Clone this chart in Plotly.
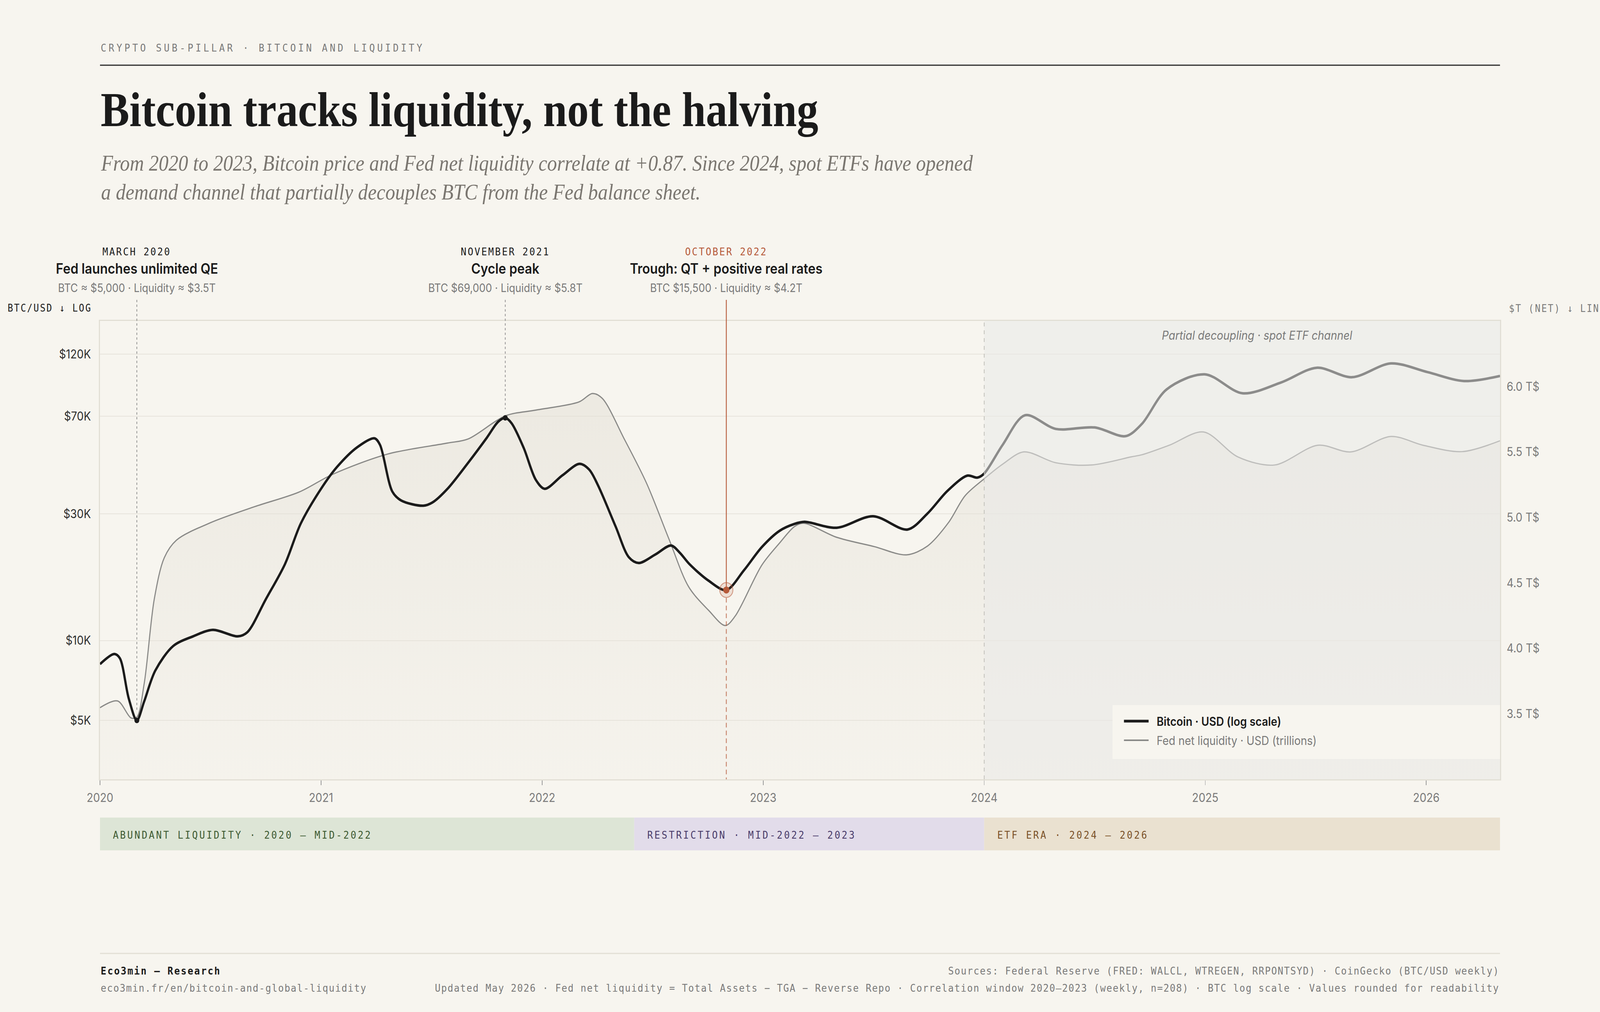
import math
import plotly.graph_objects as go

# ---------------- data ----------------
# x = months since January 2020
btc_month = [0, 0.78, 1.08, 1.56, 2, 2.4, 3, 3.97, 5.05, 6.13, 7.48, 8, 9, 10.04, 10.9,
             12, 12.87, 13.95, 14.9, 15.2, 15.87, 16.35, 17.55, 18.04, 18.85, 20, 21,
             21.62, 22, 22.34, 23, 23.66, 24.14, 25.1, 26.03, 26.55, 27.03, 27.99, 28.71,
             29.25, 30.15, 31, 31.48, 32, 33.04, 34, 34.96, 35.93, 36.89, 37.7, 38.25,
             39.99, 41.97, 43.84, 44.92, 46, 47.08, 47.63, 48, 49, 50.21, 51.89, 54,
             55.68, 56.56, 57.9, 59.97, 62.02, 64.13, 66.05, 67.97, 70.08, 72.07, 74.05, 76]
btc_usd = [8150, 8900, 8570, 6050, 5000, 5900, 7700, 9530, 10370, 10970, 10370, 10750,
           14300, 19400, 27600, 37300, 45100, 53400, 57800, 54600, 36400, 33700, 32200,
           33100, 37200, 46900, 58100, 66800, 69000, 65900, 53200, 40300, 37300, 41900,
           46300, 44100, 38500, 26900, 20600, 19600, 21100, 22800, 21400, 19400, 16800,
           15500, 18400, 22500, 25900, 27500, 28000, 26600, 29400, 26200, 30100, 36600,
           41800, 41100, 42600, 54600, 70600, 62700, 63500, 58900, 65500, 88300, 100700,
           85400, 93900, 106600, 98200, 110700, 102600, 95000, 99300]

liq_month = [0, 0.96, 1.68, 2, 2.4, 2.95, 3.49, 4.15, 6.01, 8.42, 10.82, 12.62, 15.63,
             18.85, 20, 22, 23.66, 26.01, 26.73, 27.27, 28.47, 29.67, 30.88, 31.96, 33.04,
             33.94, 34.48, 35.93, 36.89, 37.7, 38.2, 39.99, 42.03, 43.78, 44.92, 46.06,
             46.96, 48, 49, 50.15, 51.89, 53.82, 55.98, 56.56, 58.05, 59.91, 61.77, 63.76,
             66.11, 67.91, 70.08, 71.82, 73.93, 76]
liq_trn = [3.547, 3.598, 3.469, 3.475, 3.732, 4.379, 4.692, 4.826, 4.960, 5.083, 5.194,
           5.328, 5.484, 5.567, 5.600, 5.775, 5.819, 5.882, 5.946, 5.908, 5.596, 5.261,
           4.837, 4.469, 4.290, 4.174, 4.246, 4.636, 4.804, 4.930, 4.955, 4.848, 4.777,
           4.714, 4.781, 4.960, 5.165, 5.295, 5.406, 5.500, 5.417, 5.400, 5.462, 5.478,
           5.551, 5.652, 5.462, 5.400, 5.551, 5.500, 5.618, 5.551, 5.502, 5.585]

event_month = [2, 22, 34]
event_btc = [5000, 69000, 15500]
event_kicker = ["MARCH 2020", "NOVEMBER 2021", "OCTOBER 2022"]
event_title = ["Fed launches unlimited QE", "Cycle peak", "Trough: QT + positive real rates"]
event_detail = ["BTC ≈ $5,000 · Liquidity ≈ $3.5T", "BTC $69,000 · Liquidity ≈ $5.8T",
                "BTC $15,500 · Liquidity ≈ $4.2T"]

phase_start = [0, 29, 48]
phase_end = [29, 48, 76]
phase_label = ["ABUNDANT LIQUIDITY · 2020 – MID-2022", "RESTRICTION · MID-2022 – 2023",
               "ETF ERA · 2024 – 2026"]

etf_start = 48
x_range = [0, 76]
year_tickvals = [0, 12, 24, 36, 48, 60, 72]
year_ticktext = ["2020", "2021", "2022", "2023", "2024", "2025", "2026"]
btc_tickvals = [5000, 10000, 30000, 70000, 120000]
btc_ticktext = ["$5K", "$10K", "$30K", "$70K", "$120K"]
btc_range = [3000, 160000]
liq_tickvals = [3.5, 4.0, 4.5, 5.0, 5.5, 6.0]
liq_ticktext = ["3.5 T$", "4.0 T$", "4.5 T$", "5.0 T$", "5.5 T$", "6.0 T$"]
liq_range = [3.0, 6.5]

# ---------------- styling ----------------
W, H = 4608, 2592                      # design size of the page
PL, PR, PT, PB = 288, 4320, 822, 1996  # plot box in page pixels
BG = "#F7F5EF"
INK = "#1B1B1B"
GREY = "#7A7A7A"
RUST = "#B65A3A"
SANS = "Inter"
SERIF = "Liberation Serif"
MONO = "DejaVu Sans Mono"


def fx(px):
    return (px - PL) / (PR - PL)


def fy(py):
    return (PB - py) / (PB - PT)


def xm(month):
    return (month - x_range[0]) / (x_range[1] - x_range[0])


def btc_frac(v):
    lo, hi = math.log10(btc_range[0]), math.log10(btc_range[1])
    return (math.log10(v) - lo) / (hi - lo)


def spaced(text, px):
    return f'<span style="letter-spacing:{px}px">{text}</span>'


def note(x, y, text, font, xanchor="left", align="left"):
    return dict(xref="paper", yref="paper", x=x, y=y, xanchor=xanchor, yanchor="middle",
                showarrow=False, text=text, font=font, align=align)


def fnt(family, size, color, **kw):
    return dict(family=family, size=size, color=color, **kw)


fig = go.Figure()

# liquidity on the primary (right) axis so that bitcoin is drawn above its fill
fig.add_trace(go.Scatter(
    x=liq_month, y=liq_trn, yaxis="y", mode="lines",
    line=dict(color="#8A8A88", width=3.2, shape="spline", smoothing=0.9),
    fill="tozeroy",
    fillgradient=dict(type="vertical",
                      colorscale=[[0, "rgba(226,222,212,0.10)"], [1, "rgba(226,222,212,0.50)"]],
                      start=liq_range[0], stop=6.0),
    hoverinfo="skip", showlegend=False))

fig.add_trace(go.Scatter(
    x=btc_month, y=btc_usd, yaxis="y2", mode="lines",
    line=dict(color=INK, width=6.5, shape="spline", smoothing=0.9),
    hoverinfo="skip", showlegend=False))

fig.add_trace(go.Scatter(
    x=event_month[:2], y=event_btc[:2], yaxis="y2", mode="markers",
    marker=dict(size=14, color=INK), hoverinfo="skip", showlegend=False))
fig.add_trace(go.Scatter(
    x=event_month[2:], y=event_btc[2:], yaxis="y2", mode="markers",
    marker=dict(size=38, color="rgba(182,90,58,0.14)",
                line=dict(color="rgba(182,90,58,0.55)", width=2.5)),
    hoverinfo="skip", showlegend=False))
fig.add_trace(go.Scatter(
    x=event_month[2:], y=event_btc[2:], yaxis="y2", mode="markers",
    marker=dict(size=18, color=RUST), hoverinfo="skip", showlegend=False))

shapes = []
annotations = []

# header rule + footer rule
shapes.append(dict(type="line", xref="paper", yref="paper", x0=fx(288), x1=fx(4320),
                   y0=fy(167), y1=fy(167), line=dict(color="#2B2B2B", width=3)))
shapes.append(dict(type="line", xref="paper", yref="paper", x0=fx(288), x1=fx(4320),
                   y0=fy(2442), y1=fy(2442), line=dict(color="#E2DFD5", width=3)))

# phase bands
band_fill = ["#DDE5D6", "#E2DCEA", "#EAE1D0"]
band_ink = ["#3D5A32", "#4A3C6B", "#7A5128"]
for st, en, lab, fc, tc in zip(phase_start, phase_end, phase_label, band_fill, band_ink):
    shapes.append(dict(type="rect", xref="paper", yref="paper", x0=xm(st), x1=xm(en),
                       y0=fy(2178), y1=fy(2094), fillcolor=fc, line=dict(width=0), layer="below"))
    annotations.append(note(xm(st) + 35 / (PR - PL), fy(2138), spaced(lab, 4.5),
                            fnt(MONO, 27, tc)))

# ETF era veil + boundary
shapes.append(dict(type="rect", xref="paper", yref="paper", x0=xm(etf_start), x1=1, y0=0, y1=1,
                   fillcolor="rgba(234,234,231,0.55)", line=dict(width=0), layer="above"))
shapes.append(dict(type="line", xref="paper", yref="paper", x0=xm(etf_start), x1=xm(etf_start),
                   y0=0, y1=1, line=dict(color="#BDBBB5", width=2, dash="10px,10px"),
                   layer="above"))

# event guide lines
top_y = fy(768)
for m, v in zip(event_month[:2], event_btc[:2]):
    shapes.append(dict(type="line", xref="paper", yref="paper", x0=xm(m), x1=xm(m),
                       y0=top_y, y1=btc_frac(v) + 22 / (PB - PT),
                       line=dict(color="#8A8A8A", width=2, dash="6px,6px"), layer="above"))
m, v = event_month[2], event_btc[2]
shapes.append(dict(type="line", xref="paper", yref="paper", x0=xm(m), x1=xm(m),
                   y0=top_y, y1=btc_frac(v), line=dict(color=RUST, width=2.5), layer="above"))
shapes.append(dict(type="line", xref="paper", yref="paper", x0=xm(m), x1=xm(m),
                   y0=btc_frac(v) - 20 / (PB - PT), y1=0,
                   line=dict(color="rgba(182,90,58,0.75)", width=2.5, dash="12px,8px"),
                   layer="above"))

# legend box
shapes.append(dict(type="rect", xref="paper", yref="paper", x0=fx(3204), x1=fx(4320),
                   y0=fy(1944), y1=fy(1806), fillcolor=BG, line=dict(width=0), layer="above"))
shapes.append(dict(type="line", xref="paper", yref="paper", x0=fx(3237), x1=fx(3308),
                   y0=fy(1847), y1=fy(1847), line=dict(color=INK, width=7), layer="above"))
shapes.append(dict(type="line", xref="paper", yref="paper", x0=fx(3237), x1=fx(3308),
                   y0=fy(1896), y1=fy(1896), line=dict(color="#8A8A88", width=4), layer="above"))
annotations.append(note(fx(3329), fy(1847), "Bitcoin · USD (log scale)",
                        fnt(SANS, 31, INK, weight=600)))
annotations.append(note(fx(3329), fy(1896), "Fed net liquidity · USD (trillions)",
                        fnt(SANS, 31, GREY)))

# header texts
annotations.append(note(fx(288), fy(122), spaced("CRYPTO SUB-PILLAR · BITCOIN AND LIQUIDITY", 6.5),
                        fnt(MONO, 27, GREY)))
annotations.append(note(fx(288), fy(282), "Bitcoin tracks liquidity, not the halving",
                        fnt(SERIF, 124, INK, weight=700)))
annotations.append(note(fx(288), fy(455),
                        "From 2020 to 2023, Bitcoin price and Fed net liquidity correlate at +0.87. "
                        "Since 2024, spot ETFs have opened<br>a demand channel that partially "
                        "decouples BTC from the Fed balance sheet.",
                        fnt(SERIF, 56.6, "#7A7670", style="italic")))

# event labels
for i, (m, k, t, d) in enumerate(zip(event_month, event_kicker, event_title, event_detail)):
    kc = RUST if i == 2 else INK
    annotations.append(note(xm(m), fy(644), spaced(k, 3.5), fnt(MONO, 27, kc), "center", "center"))
    annotations.append(note(xm(m), fy(688), t, fnt(SANS, 36.6, INK, weight=600), "center", "center"))
    annotations.append(note(xm(m), fy(737), d, fnt(SANS, 29.5, GREY), "center", "center"))

# axis captions
annotations.append(note(fx(20), fy(789), spaced("BTC/USD ↓ LOG", 3), fnt(MONO, 26, INK)))
annotations.append(note(fx(4344), fy(790), spaced("$T (NET) ↓ LIN", 3), fnt(MONO, 26, GREY)))

annotations.append(note(fx(3620), fy(858), "Partial decoupling · spot ETF channel",
                        fnt(SANS, 31, GREY, style="italic"), "center", "center"))

# footer
annotations.append(note(fx(288), fy(2486), spaced("Eco3min — Research", 3),
                        fnt(MONO, 27, INK, weight=700)))
annotations.append(note(fx(288), fy(2530), spaced("eco3min.fr/en/bitcoin-and-global-liquidity", 2),
                        fnt(MONO, 27, GREY)))
annotations.append(note(fx(4320), fy(2486),
                        spaced("Sources: Federal Reserve (FRED: WALCL, WTREGEN, RRPONTSYD) · "
                               "CoinGecko (BTC/USD weekly)", 2),
                        fnt(MONO, 27, GREY), "right", "right"))
annotations.append(note(fx(4320), fy(2530),
                        spaced("Updated May 2026 · Fed net liquidity = Total Assets − TGA − "
                               "Reverse Repo · Correlation window 2020–2023 (weekly, n=208) · "
                               "BTC log scale · Values rounded for readability", 2),
                        fnt(MONO, 27, GREY), "right", "right"))

fig.update_layout(
    width=W, height=H, autosize=False,
    margin=dict(l=PL, r=W - PR, t=PT, b=H - PB, pad=0),
    paper_bgcolor=BG, plot_bgcolor="rgba(0,0,0,0)",
    font=dict(family=SANS, size=31, color=GREY),
    showlegend=False, hovermode=False,
    shapes=shapes, annotations=annotations,
    xaxis=dict(range=x_range, tickvals=year_tickvals, ticktext=year_ticktext,
               showgrid=False, zeroline=False, showline=True, mirror=True,
               linecolor="#E2DFD5", linewidth=3, ticks="outside", ticklen=12,
               tickwidth=2, tickcolor="#9A9A9A", ticklabelstandoff=6,
               tickfont=fnt(SANS, 31, GREY)),
    yaxis=dict(side="right", range=liq_range, tickvals=liq_tickvals, ticktext=liq_ticktext,
               showgrid=False, zeroline=False, showline=False, ticks="",
               ticklabelstandoff=18, tickfont=fnt(SANS, 31, GREY)),
    yaxis2=dict(overlaying="y", side="left", type="log",
                range=[math.log10(btc_range[0]), math.log10(btc_range[1])],
                tickvals=btc_tickvals, ticktext=btc_ticktext, showgrid=True,
                gridcolor="#E7E4DC", gridwidth=2, zeroline=False, showline=True,
                mirror=True, linecolor="#E2DFD5", linewidth=3, ticks="",
                ticklabelstandoff=17, tickfont=fnt(SANS, 31, "#2E2E2E")),
)

# fit the 4608x2592 design to whatever window the page is opened in
page_js = (
    "var de=document.documentElement, bd=document.body;"
    "de.style.margin='0px'; bd.style.margin='0px';"
    "de.style.overflow='hidden'; bd.style.overflow='hidden';"
    "de.style.background='" + BG + "'; bd.style.background='" + BG + "';"
    "var g=document.getElementsByClassName('plotly-graph-div')[0];"
    "var kx=window.innerWidth/" + str(W) + ", ky=window.innerHeight/" + str(H) + ";"
    "g.style.transformOrigin='0 0';"
    "g.style.transform='scale('+kx+','+ky+')';"
)

fig.write_html("out.html", config={"displayModeBar": False}, post_script=page_js)
